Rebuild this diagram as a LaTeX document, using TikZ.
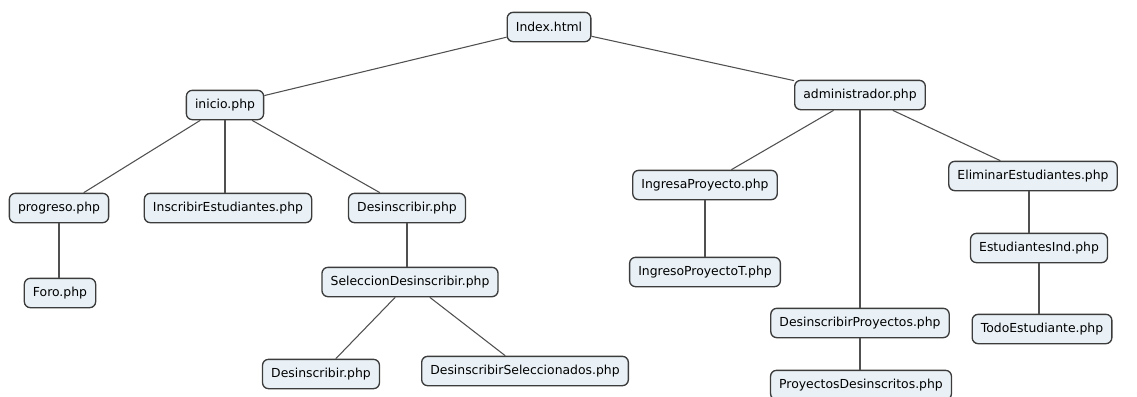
\documentclass[tikz,border=0pt]{standalone}
\usepackage{fontspec}
\setmainfont{DejaVu Sans}
\usetikzlibrary{positioning}
\definecolor{pagefill}{HTML}{E9F1F6}
\definecolor{pageline}{HTML}{3C3C3C}

\begin{document}
\begin{tikzpicture}[
  x=0.75pt, y=-0.75pt,
  page/.style={draw=pageline, line width=1pt, rounded corners=4.5pt, fill=pagefill,
               minimum height=22pt, inner xsep=6.5pt, align=center,
               font=\fontsize{9.3}{11}\selectfont},
  link/.style={draw=pageline!90, line width=0.8pt}
]
  \useasboundingbox (0,0) rectangle (1137,396);

  % Root
  \node[page] (index) at (549,27) {Index.html};

  % Student side
  \node[page] (inicio) at (225,105) {inicio.php};
  \node[page] (prog) at (59,208) {progreso.php};
  \node[page] (insc) at (228,208) {InscribirEstudiantes.php};
  \node[page] (desi) at (407,208) {Desinscribir.php};
  \node[page] (foro) at (60,293) {Foro.php};
  \node[page] (selec) at (410,282) {SeleccionDesinscribir.php};
  \node[page] (desitwo) at (321,374) {Desinscribir.php};
  \node[page] (desisel) at (525,371) {DesinscribirSeleccionados.php};

  % Admin side
  \node[page] (admin) at (860,95) {administrador.php};
  \node[page] (ingp) at (705,185) {IngresaProyecto.php};
  \node[page] (ingpt) at (705,272) {IngresoProyectoT.php};
  \node[page] (desp) at (860,323) {DesinscribirProyectos.php};
  \node[page] (projd) at (861,385) {ProyectosDesinscritos.php};
  \node[page] (elim) at (1033,176) {EliminarEstudiantes.php};
  \node[page] (estind) at (1039,248) {EstudiantesInd.php};
  \node[page] (todo) at (1042,329) {TodoEstudiante.php};

  % Edges
  \draw[link] (index) -- (inicio);
  \draw[link] (index) -- (admin);
  \draw[link] (inicio) -- (prog);
  \draw[link] (inicio.south) -- (inicio.south |- insc.north);
  \draw[link] (inicio) -- (desi);
  \draw[link] (prog.south) -- (prog.south |- foro.north);
  \draw[link] (desi.south) -- (desi.south |- selec.north);
  \draw[link] (selec) -- (desitwo);
  \draw[link] (selec) -- (desisel);
  \draw[link] (admin) -- (ingp);
  \draw[link] (admin.south) -- (admin.south |- desp.north);
  \draw[link] (admin) -- (elim);
  \draw[link] (ingp.south) -- (ingp.south |- ingpt.north);
  \draw[link] (desp.south) -- (desp.south |- projd.north);
  \draw[link] ([xshift=-3pt]elim.south) -- ([xshift=-3pt]elim.south |- estind.north);
  \draw[link] (estind.south) -- (estind.south |- todo.north);
\end{tikzpicture}
\end{document}
